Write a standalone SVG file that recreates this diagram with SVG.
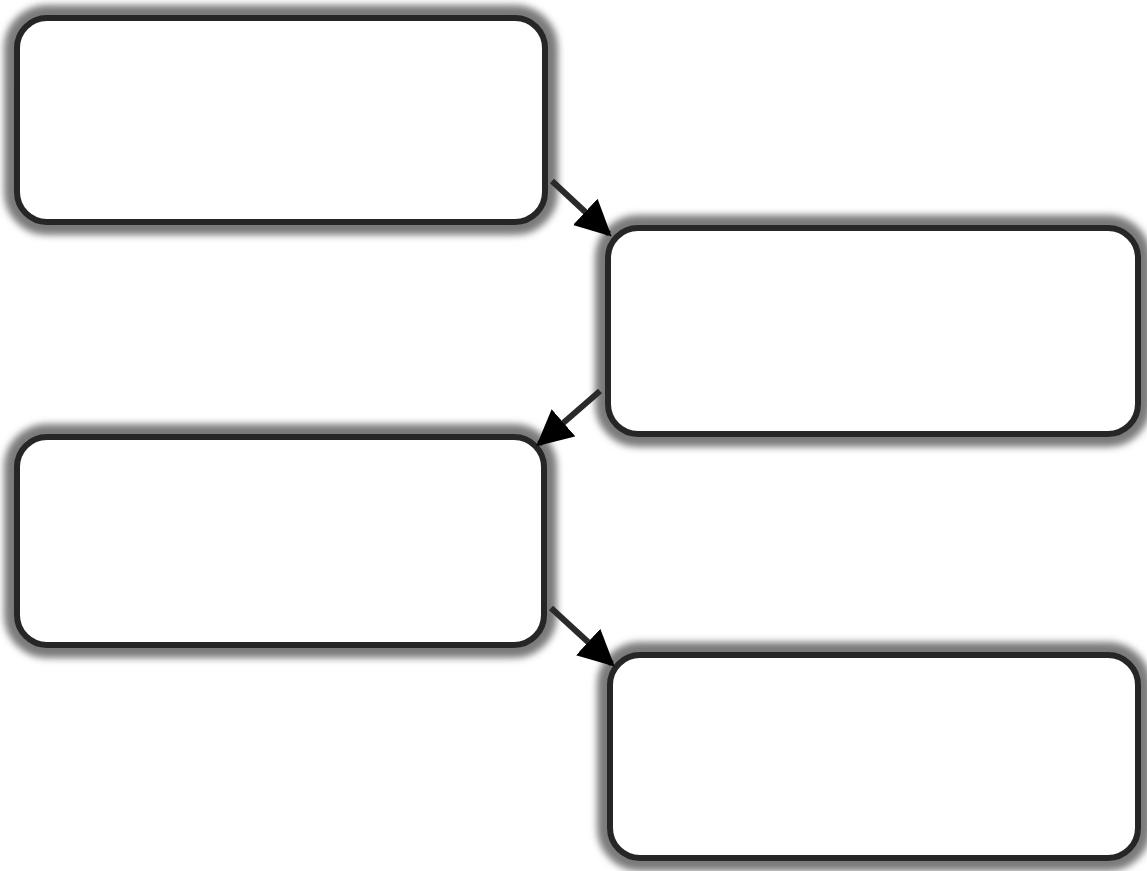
<svg xmlns="http://www.w3.org/2000/svg" width="1147" height="871" viewBox="0 0 1147 871">
  <style>
    .glow { fill: none; stroke: #7a7a7a; stroke-width: 26; filter: url(#blur); }
    .box { fill: #ffffff; stroke: #262626; stroke-width: 6; }
    .conn { stroke: #2a2a2a; stroke-width: 6; fill: none; marker-end: url(#head); }
  </style>
  <defs>
    <filter id="blur" x="-10%" y="-15%" width="120%" height="130%">
      <feGaussianBlur stdDeviation="3.5"/>
    </filter>
    <marker id="head" viewBox="0 0 10 10" refX="9" refY="5" markerWidth="6" markerHeight="6" orient="auto" markerUnits="strokeWidth">
      <path d="M0,0 L10,5 L0,10 Z" fill="#000"/>
    </marker>
  </defs>
  <rect width="1147" height="871" fill="#ffffff"/>
  <g id="node1">
    <rect class="glow" x="17" y="18" width="528" height="204" rx="30"/>
    <rect class="box" x="17" y="18" width="528" height="204" rx="30"/>
  </g>
  <g id="node2">
    <rect class="glow" x="608" y="228" width="530" height="206" rx="30"/>
    <rect class="box" x="608" y="228" width="530" height="206" rx="30"/>
  </g>
  <g id="node3">
    <rect class="glow" x="17" y="437" width="527" height="208" rx="30"/>
    <rect class="box" x="17" y="437" width="527" height="208" rx="30"/>
  </g>
  <g id="node4">
    <rect class="glow" x="610" y="655" width="528" height="203" rx="30"/>
    <rect class="box" x="610" y="655" width="528" height="203" rx="30"/>
  </g>
  <g id="connectors">
    <line class="conn" x1="552" y1="181" x2="609" y2="234"/>
    <line class="conn" x1="600" y1="391" x2="539" y2="444"/>
    <line class="conn" x1="551" y1="608" x2="612" y2="664"/>
  </g>
</svg>
